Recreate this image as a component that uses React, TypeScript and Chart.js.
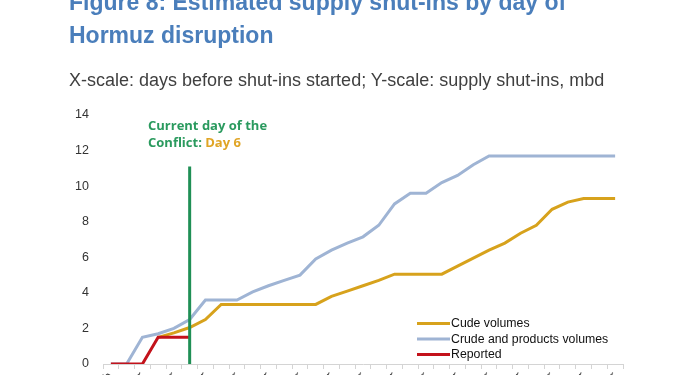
import React, { useEffect, useRef } from 'react';
import { Chart, registerables } from 'chart.js';

Chart.register(...registerables);

// ---- data ----
const categories = [
  '27-Feb', '28-Feb', '1-Mar', '2-Mar', '3-Mar', '4-Mar', '5-Mar', '6-Mar', '7-Mar', '8-Mar', '9-Mar',
  '10-Mar', '11-Mar', '12-Mar', '13-Mar', '14-Mar', '15-Mar', '16-Mar', '17-Mar', '18-Mar', '19-Mar',
  '20-Mar', '21-Mar', '22-Mar', '23-Mar', '24-Mar', '25-Mar', '26-Mar', '27-Mar', '28-Mar', '29-Mar',
  '30-Mar', '31-Mar',
];

const crudeVolumes = [
  null, null, null, 1.5, 1.75, 2.05, 2.5, 3.35, 3.35, 3.35, 3.35, 3.35, 3.35, 3.35, 3.8, 4.1, 4.4,
  4.7, 5.05, 5.05, 5.05, 5.05, 5.5, 5.95, 6.4, 6.8, 7.35, 7.8, 8.7, 9.1, 9.3, 9.3, 9.3,
];

const crudeProductsVolumes = [
  0, 0, 1.5, 1.7, 2.0, 2.5, 3.6, 3.6, 3.6, 4.05, 4.4, 4.7, 5.0, 5.9, 6.4, 6.8, 7.15, 7.8, 9.0,
  9.6, 9.6, 10.2, 10.6, 11.2, 11.7, 11.7, 11.7, 11.7, 11.7, 11.7, 11.7, 11.7, 11.7,
];

const reported = [
  0, 0, 0, 1.5, 1.5, 1.5, null, null, null, null, null, null, null, null, null, null, null,
  null, null, null, null, null, null, null, null, null, null, null, null, null, null, null, null,
];

const currentDayIndex = 5;
const currentDayMarkerTop = 11.1;
const yTicks = [0, 2, 4, 6, 8, 10, 12, 14];

const seriesLabels = ['Cude volumes', 'Crude and products volumes', 'Reported'];
const titleLines = ['Figure 8: Estimated supply shut-ins by day of', 'Hormuz disruption'];
const subtitle = 'X-scale: days before shut-ins started; Y-scale: supply shut-ins, mbd';
const annotationLine1 = 'Current day of the';
const annotationLine2a = 'Conflict: ';
const annotationLine2b = 'Day 6';

const GOLD = '#d7a21c';
const BLUE = '#9fb4d4';
const RED = '#c3121b';
const GREEN = '#1f8f55';
const GREEN_TEXT = '#2a9a5e';
const DAY_GOLD = '#e0a526';
const SANS = '"Liberation Sans", Arial, Helvetica, sans-serif';

const overlayPlugin = {
  id: 'overlay',
  afterDraw(chart: any) {
    const ctx = chart.ctx as CanvasRenderingContext2D;
    ctx.save();
    // legend (inside plot, lower right)
    const items = [
      { label: seriesLabels[0], color: GOLD },
      { label: seriesLabels[1], color: BLUE },
      { label: seriesLabels[2], color: RED },
    ];
    ctx.font = `12.3px ${SANS}`;
    ctx.textBaseline = 'middle';
    ctx.textAlign = 'left';
    items.forEach((it, i) => {
      const y = 323.5 + i * 15.5;
      ctx.strokeStyle = it.color;
      ctx.lineWidth = 3;
      ctx.beginPath();
      ctx.moveTo(417, y);
      ctx.lineTo(450, y);
      ctx.stroke();
      ctx.fillStyle = '#111';
      ctx.fillText(it.label, 451, y + 0.5);
    });
    // annotation
    ctx.textBaseline = 'alphabetic';
    ctx.font = `bold 13px "Open Sans", Lato, sans-serif`;
    ctx.fillStyle = GREEN_TEXT;
    ctx.fillText(annotationLine1, 148, 129.5);
    ctx.fillText(annotationLine2a, 148, 146.5);
    const w = ctx.measureText(annotationLine2a).width;
    ctx.fillStyle = DAY_GOLD;
    ctx.fillText(annotationLine2b, 148 + w, 146.5);
    ctx.restore();
  },
};

export default function App() {
  const canvasRef = useRef<HTMLCanvasElement | null>(null);

  useEffect(() => {
    if (!canvasRef.current) return;
    const chart = new Chart(canvasRef.current, {
      type: 'line',
      data: {
        labels: categories,
        datasets: [
          {
            label: seriesLabels[0],
            data: crudeVolumes,
            borderColor: GOLD,
            borderWidth: 3,
            pointRadius: 0,
            tension: 0,
            order: 2,
          },
          {
            label: seriesLabels[1],
            data: crudeProductsVolumes,
            borderColor: BLUE,
            borderWidth: 3,
            pointRadius: 0,
            tension: 0,
            order: 3,
          },
          {
            label: seriesLabels[2],
            data: reported,
            borderColor: RED,
            borderWidth: 3,
            pointRadius: 0,
            tension: 0,
            order: 1,
          },
          {
            label: 'Current day',
            data: [
              { x: categories[currentDayIndex], y: 0 },
              { x: categories[currentDayIndex], y: currentDayMarkerTop },
            ] as any,
            borderColor: GREEN,
            borderWidth: 3,
            pointRadius: 0,
            order: 0,
          },
        ],
      },
      options: {
        responsive: false,
        animation: false,
        devicePixelRatio: 1,
        layout: { padding: { top: 115, left: 63, right: 77, bottom: 6 } },
        plugins: {
          legend: { display: false },
          tooltip: { enabled: false },
        },
        scales: {
          x: {
            type: 'category',
            offset: true,
            afterFit: (s: any) => {
              s.height = 40;
            },
            grid: {
              display: true,
              drawOnChartArea: false,
              drawTicks: true,
              tickLength: 5,
              offset: true,
              color: '#d4d4d4',
            },
            border: { display: true, color: '#d4d4d4', width: 1 },
            ticks: {
              autoSkip: false,
              minRotation: 45,
              maxRotation: 45,
              padding: 0,
              color: '#404040',
              font: { family: SANS, size: 13 },
              callback: (_v: any, idx: number) => (idx % 2 === 0 ? categories[idx] : ''),
            },
          },
          y: {
            min: 0,
            max: 14,
            afterFit: (s: any) => {
              s.width = 40;
            },
            afterBuildTicks: (s: any) => {
              s.ticks = yTicks.map((v) => ({ value: v }));
            },
            grid: { display: false, drawTicks: false },
            border: { display: false },
            ticks: {
              padding: 14,
              color: '#333',
              font: { family: SANS, size: 12.5 },
            },
          },
        },
      },
      plugins: [overlayPlugin],
    });
    return () => chart.destroy();
  }, []);

  return (
    <div
      style={{
        position: 'fixed',
        left: 0,
        top: 0,
        width: 700,
        height: 375,
        overflow: 'hidden',
        background: '#fff',
      }}
    >
      <canvas
        ref={canvasRef}
        width={700}
        height={410}
        style={{ position: 'absolute', left: 0, top: 0, display: 'block' }}
      />
      <div
        style={{
          position: 'absolute',
          left: 69,
          top: -14.5,
          fontFamily: SANS,
          fontWeight: 'bold',
          fontSize: 23,
          lineHeight: '33px',
          color: '#4a7ebb',
          whiteSpace: 'nowrap',
        }}
      >
        <div>{titleLines[0]}</div>
        <div>{titleLines[1]}</div>
      </div>
      <div
        style={{
          position: 'absolute',
          left: 69,
          top: 69.5,
          fontFamily: SANS,
          fontSize: 18,
          lineHeight: '20px',
          color: '#404040',
          whiteSpace: 'nowrap',
        }}
      >
        {subtitle}
      </div>
    </div>
  );
}
